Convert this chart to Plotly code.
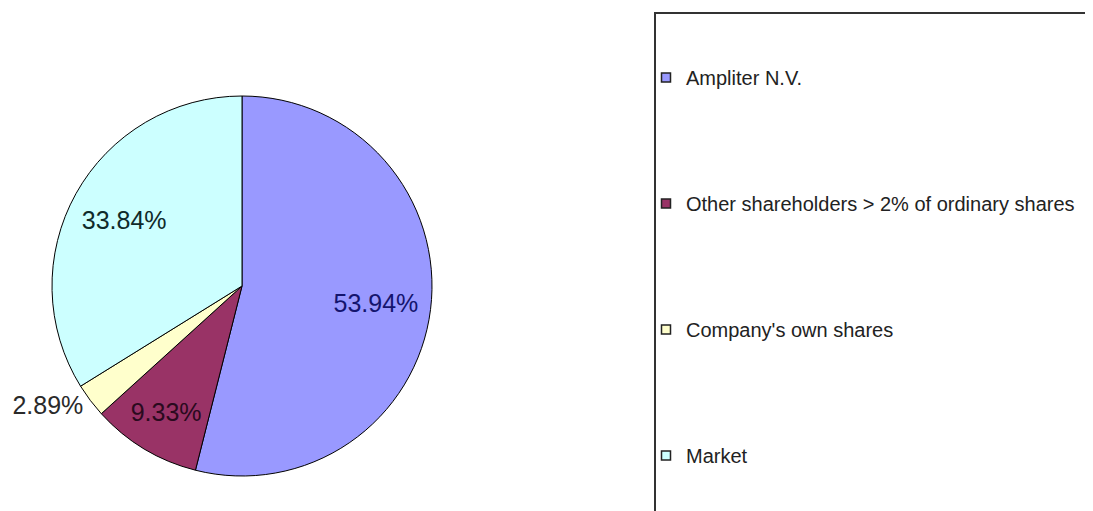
import plotly.graph_objects as go

W, H = 1093, 511

categories = ["Ampliter N.V.", "Other shareholders > 2% of ordinary shares",
              "Company's own shares", "Market"]
values = [53.94, 9.33, 2.89, 33.84]
colors = ["#9999FF", "#993366", "#FFFFCC", "#CCFFFF"]
text_colors = ["#14146e", "#2a0a1e", "#2a2a2a", "#0f2a2a"]
text_positions = ["inside", "inside", "outside", "inside"]

FONT = "Liberation Sans, Arial, sans-serif"
pie_domain = dict(x=[44 / W, 424 / W], y=[1 - 468 / H, 1 - 88 / H])

fig = go.Figure()

# filled pie with outlines
fig.add_trace(go.Pie(
    labels=categories,
    values=values,
    sort=False,
    direction="clockwise",
    rotation=0,
    marker=dict(colors=colors, line=dict(color="#000000", width=1)),
    textinfo="none",
    showlegend=False,
    domain=pie_domain,
    hoverinfo="label+percent",
))

# transparent ring on top carrying the data labels (places them further out)
fig.add_trace(go.Pie(
    labels=categories,
    values=values,
    sort=False,
    direction="clockwise",
    rotation=0,
    hole=0.42,
    marker=dict(colors=["rgba(0,0,0,0)"] * len(values),
                line=dict(color="rgba(0,0,0,0)", width=0)),
    texttemplate="%{value:.2f}%",
    textposition=text_positions,
    insidetextorientation="horizontal",
    textfont=dict(family=FONT, size=25, color=text_colors),
    showlegend=False,
    domain=pie_domain,
    hoverinfo="skip",
))

# legend entries (one group each so they can be spaced apart)
for i, (name, c) in enumerate(zip(categories, colors)):
    fig.add_trace(go.Scatter(
        x=[None], y=[None], mode="markers", name=name,
        legendgroup=f"g{i}",
        marker=dict(symbol="square", size=9, color=c,
                    line=dict(color="#222222", width=1.5)),
        xaxis="x", yaxis="y",
    ))

fig.update_layout(
    width=W, height=H,
    margin=dict(l=0, r=0, t=0, b=0),
    paper_bgcolor="white",
    plot_bgcolor="white",
    font=dict(family=FONT, color="#222222"),
    xaxis=dict(visible=False, domain=[0, 0.01]),
    yaxis=dict(visible=False, domain=[0, 0.01]),
    uniformtext=dict(minsize=25, mode="show"),
    legend=dict(
        x=638 / W, xanchor="left",
        y=1 - 50 / H, yanchor="top",
        bgcolor="rgba(0,0,0,0)",
        borderwidth=0,
        font=dict(family=FONT, size=20, color="#222222"),
        tracegroupgap=97,
        itemclick=False, itemdoubleclick=False,
    ),
    shapes=[dict(
        type="rect", xref="paper", yref="paper",
        x0=647 / W, x1=1094 / W, y0=-0.2, y1=1 - 5 / H,
        line=dict(color="#333333", width=2),
        fillcolor="rgba(0,0,0,0)", layer="below",
    )],
)

fig.write_html("out.html")
